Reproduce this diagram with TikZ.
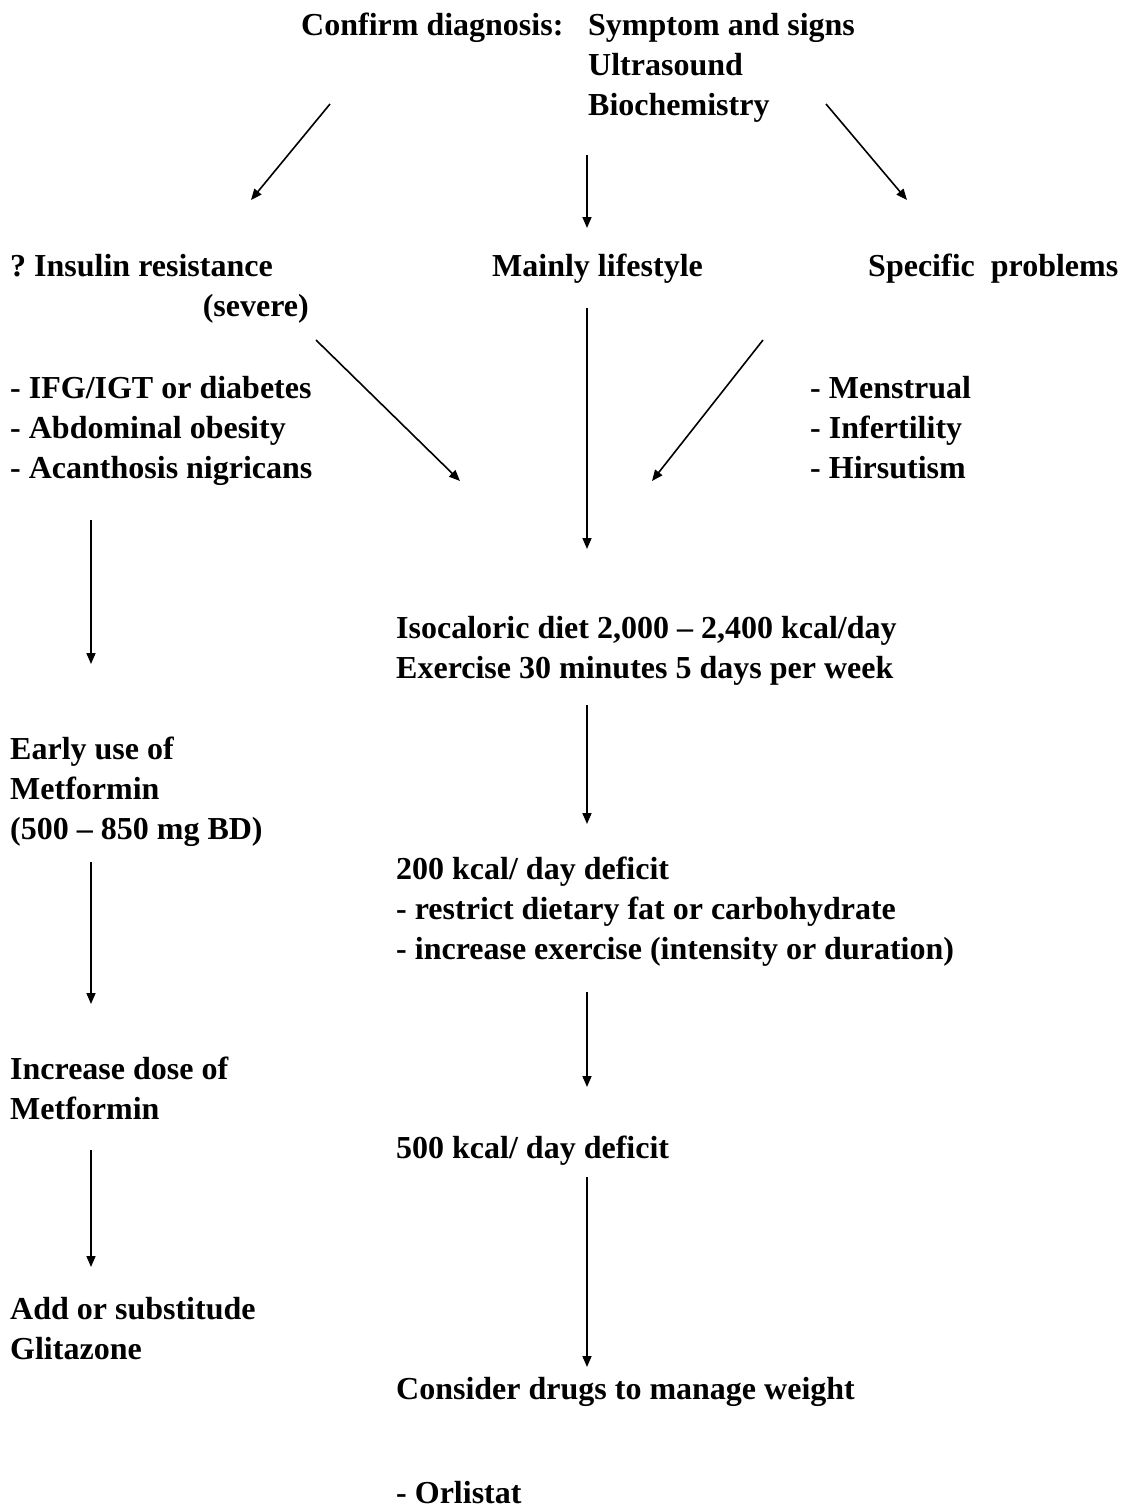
\documentclass[tikz,border=0pt]{standalone}
\usepackage{fontspec}
\setmainfont{Liberation Serif}
\usetikzlibrary{arrows.meta}
\frenchspacing
\tikzset{
  txt/.style={anchor=base west, inner sep=0pt, font=\bfseries\fontsize{32}{40}\selectfont},
  txtr/.style={anchor=base east, inner sep=0pt, font=\bfseries\fontsize{32}{40}\selectfont},
  arr/.style={line width=1.6pt, -{Triangle[length=11pt,width=9pt]}}
}
\begin{document}
\begin{tikzpicture}[x=1pt,y=-1pt]
\useasboundingbox (0,0) rectangle (1125,1510);
% top
\node[txt] (cd) at (301,35) {Confirm diagnosis:};
\node[txt] (ss) at (588,35) {Symptom and signs};
\node[txt] (us) at (588,75) {Ultrasound};
\node[txt] (bc) at (588,115) {Biochemistry};
% level 2
\node[txt] (ir) at (10,276) {? Insulin resistance};
\node[txtr] (sv) at (309,316) {(severe)};
\node[txt] (ml) at (492,276) {Mainly lifestyle};
\node[txt] (sp) at (868,276) {Specific\ \ problems};
% lists
\node[txt] (l1) at (10,398) {- IFG/IGT or diabetes};
\node[txt] (l2) at (10,438) {- Abdominal obesity};
\node[txt] (l3) at (10,478) {- Acanthosis nigricans};
\node[txt] (r1) at (810,398) {- Menstrual};
\node[txt] (r2) at (810,438) {- Infertility};
\node[txt] (r3) at (810,478) {- Hirsutism};
% middle column
\node[txt] (iso1) at (396,638) {Isocaloric diet 2,000 – 2,400 kcal/day};
\node[txt] (iso2) at (396,678) {Exercise 30 minutes 5 days per week};
\node[txt] (d1) at (396,879) {200 kcal/ day deficit};
\node[txt] (d2) at (396,919) {- restrict dietary fat or carbohydrate};
\node[txt] (d3) at (396,959) {- increase exercise (intensity or duration)};
\node[txt] (f1) at (396,1158) {500 kcal/ day deficit};
\node[txt] (cdr) at (396,1399) {Consider drugs to manage weight};
\node[txt] (orl) at (396,1503) {- Orlistat};
% left column
\node[txt] (e1) at (10,759) {Early use of};
\node[txt] (e2) at (10,799) {Metformin};
\node[txt] (e3) at (10,839) {(500 – 850 mg BD)};
\node[txt] (i1) at (10,1079) {Increase dose of};
\node[txt] (i2) at (10,1119) {Metformin};
\node[txt] (a1) at (10,1319) {Add or substitude};
\node[txt] (a2) at (10,1359) {Glitazone};
% arrow endpoints
\coordinate (p1a) at (330,104); \coordinate (p1b) at (251,200);
\coordinate (p2a) at (826,104); \coordinate (p2b) at (907,200);
\coordinate (p3a) at (587,155); \coordinate (p3b) at (587,228);
\coordinate (p4a) at (316,340); \coordinate (p4b) at (460,481);
\coordinate (p5a) at (763,340); \coordinate (p5b) at (652,481);
\coordinate (p6a) at (587,308); \coordinate (p6b) at (587,549);
\coordinate (p7a) at (91,520);  \coordinate (p7b) at (91,664);
\coordinate (p8a) at (587,705); \coordinate (p8b) at (587,824);
\coordinate (p9a) at (91,862);  \coordinate (p9b) at (91,1004);
\coordinate (p10a) at (587,992); \coordinate (p10b) at (587,1087);
\coordinate (p11a) at (91,1150); \coordinate (p11b) at (91,1267);
\coordinate (p12a) at (587,1177); \coordinate (p12b) at (587,1367);
\foreach \i in {1,...,12} {\draw[arr] (p\i a) -- (p\i b);}
\end{tikzpicture}
\end{document}
